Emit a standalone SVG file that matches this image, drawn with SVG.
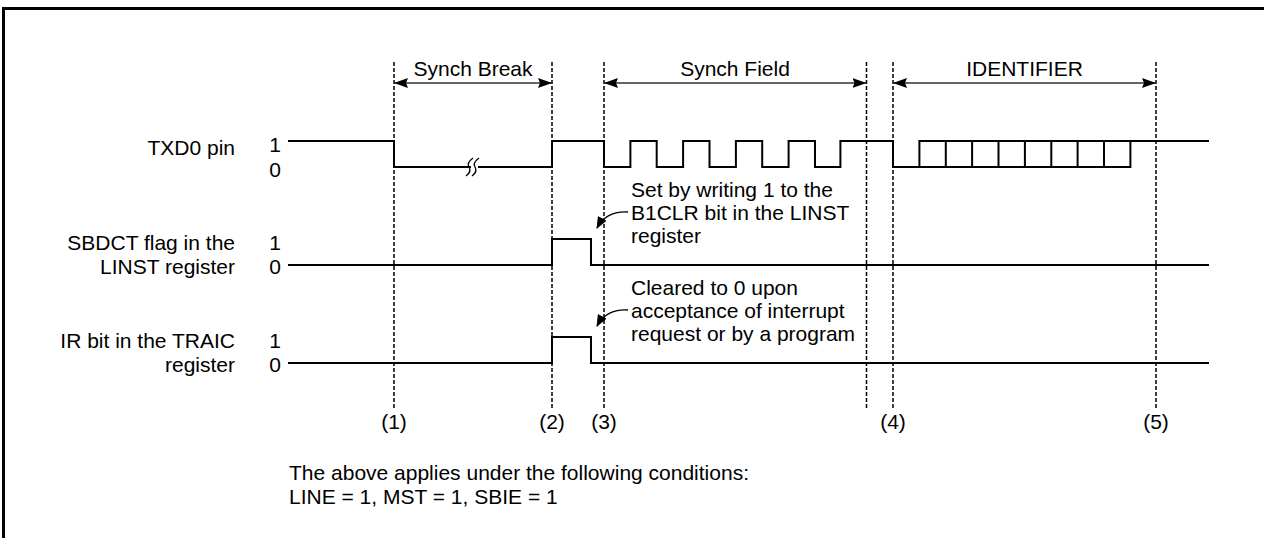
<svg xmlns="http://www.w3.org/2000/svg" width="1264" height="538" viewBox="0 0 1264 538">
<style>
text{font-family:"Liberation Sans",Arial,sans-serif;font-size:21px;fill:#000}
.r{text-anchor:end}
.m{text-anchor:middle}
.w{fill:none;stroke:#000;stroke-width:2}
.d{stroke:#000;stroke-width:1.5;stroke-dasharray:4 2;fill:none}
.a{stroke:#333;stroke-width:1.3;fill:none;marker-start:url(#ah);marker-end:url(#ah)}
.c{stroke:#000;stroke-width:1.3;fill:none;marker-end:url(#ch)}
.b{stroke:#000;stroke-width:1.3;fill:none}
</style>
<defs>
<marker id="ah" viewBox="0 0 14 10" refX="14" refY="5" markerWidth="14" markerHeight="10" markerUnits="userSpaceOnUse" orient="auto-start-reverse"><path d="M0 0 L14 5 L0 10 L2 5 Z" fill="#000"/></marker>
<marker id="ch" viewBox="0 0 12 10" refX="11" refY="5" markerWidth="12" markerHeight="10" markerUnits="userSpaceOnUse" orient="auto"><path d="M0 0 L12 5 L0 10 Z" fill="#000"/></marker>
</defs>
<rect width="1264" height="538" fill="#fff"/>
<path d="M3.5 538 V8.5 H1264" fill="none" stroke="#000" stroke-width="3"/>

<g id="connectors">
<line class="d" x1="394" y1="62" x2="394" y2="408"/>
<line class="d" x1="552" y1="62" x2="552" y2="408"/>
<line class="d" x1="604" y1="62" x2="604" y2="408"/>
<line class="d" x1="866.5" y1="62" x2="866.5" y2="408"/>
<line class="d" x1="893" y1="62" x2="893" y2="408"/>
<line class="d" x1="1156" y1="62" x2="1156" y2="408"/>
<line class="a" x1="394" y1="83" x2="552" y2="83"/>
<line class="a" x1="604" y1="83" x2="866.5" y2="83"/>
<line class="a" x1="893" y1="83" x2="1156" y2="83"/>
<path class="c" d="M628 212 C612 211 603 217 597 228"/>
<path class="c" d="M628 310 C612 309 603 315 597 326"/>
</g>

<g id="spans">
<text class="m" x="473" y="76">Synch Break</text>
<text class="m" x="735" y="76">Synch Field</text>
<text class="m" x="1024.5" y="76">IDENTIFIER</text>
</g>

<g id="txd0">
<text class="r" x="235" y="155">TXD0 pin</text>
<text class="m" x="275" y="152">1</text>
<text class="m" x="275" y="177">0</text>
<path class="w" d="M288 141 H394 V167 H552 V141 H604 V167 H630.4 V141 H656.7 V167 H683.1 V141 H709.5 V167 H735.9 V141 H762.2 V167 H788.6 V141 H815 V167 H840.4 V141 H893 V167 H1130.4 V141 H1209"/>
<path class="w" d="M919.4 167 V141 H1130.4 M945.8 141 V167 M972.1 141 V167 M998.5 141 V167 M1024.9 141 V167 M1051.3 141 V167 M1077.6 141 V167 M1104 141 V167"/>
<rect x="471" y="162" width="7" height="10" fill="#fff"/>
<path class="b" d="M466 176 C470 173 471 170 469 167 S469 161 473 158"/>
<path class="b" d="M472 176 C476 173 477 170 475 167 S475 161 479 158"/>
</g>

<g id="sbdct">
<text class="r" x="235" y="250">SBDCT flag in the</text>
<text class="r" x="235" y="274">LINST register</text>
<text class="m" x="275" y="250">1</text>
<text class="m" x="275" y="274">0</text>
<path class="w" d="M288 265 H552 V239 H591 V265 H1209"/>
</g>

<g id="ir">
<text class="r" x="235" y="348">IR bit in the TRAIC</text>
<text class="r" x="235" y="372">register</text>
<text class="m" x="275" y="348">1</text>
<text class="m" x="275" y="372">0</text>
<path class="w" d="M288 363 H552 V337 H591 V363 H1209"/>
</g>

<g id="note-set">
<text x="631" y="197">Set by writing 1 to the</text>
<text x="631" y="220">B1CLR bit in the LINST</text>
<text x="631" y="243">register</text>
</g>

<g id="note-clear">
<text x="631" y="295">Cleared to 0 upon</text>
<text x="631" y="318">acceptance of interrupt</text>
<text x="631" y="341">request or by a program</text>
</g>

<g id="points">
<text class="m" x="394" y="429">(1)</text>
<text class="m" x="552" y="429">(2)</text>
<text class="m" x="604" y="429">(3)</text>
<text class="m" x="893" y="429">(4)</text>
<text class="m" x="1156" y="429">(5)</text>
</g>

<g id="conditions">
<text x="289" y="480">The above applies under the following conditions:</text>
<text x="289" y="504">LINE = 1, MST = 1, SBIE = 1</text>
</g>
</svg>
